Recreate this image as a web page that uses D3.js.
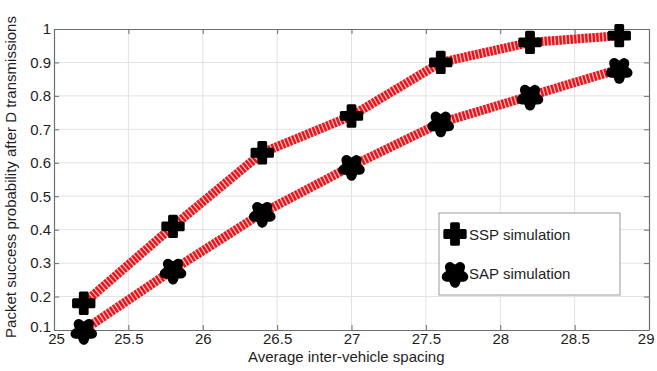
<!DOCTYPE html>
<html>
<head>
<meta charset="utf-8">
<script src="https://cdn.jsdelivr.net/npm/d3@7"></script>
<style>
  html, body { margin: 0; padding: 0; background: #fff; }
  svg { display: block; font-family: "Liberation Sans", Arial, sans-serif; }
</style>
</head>
<body>
<svg id="chart" width="657" height="371"></svg>
<script>
// Average inter-vehicle spacing (x) and packet success probability per scheme
const spacing = [25.2, 25.8, 26.4, 27.0, 27.6, 28.2, 28.8];
const sspValues = [0.18, 0.41, 0.63, 0.74, 0.90, 0.96, 0.98];
const sapValues = [0.10, 0.28, 0.45, 0.59, 0.72, 0.80, 0.88];
const xTicks = [25, 25.5, 26, 26.5, 27, 27.5, 28, 28.5, 29];
const yTicks = [0.1, 0.2, 0.3, 0.4, 0.5, 0.6, 0.7, 0.8, 0.9, 1];
const seriesNames = ["SSP simulation", "SAP simulation"];

(function () {
const svg = d3.select("#chart");
const margin = { left: 54, right: 8, top: 29, bottom: 41 };
const W = 657, H = 371;

const x = d3.scaleLinear().domain([25, 29]).range([margin.left, W - margin.right]);
const y = d3.scaleLinear().domain([0.1, 1]).range([H - margin.bottom, margin.top]);

const axisColor = "#6e6e6e";
const gridColor = "#e2e2e2";
const textColor = "#1e1e1e";

// grid
const grid = svg.append("g");
grid.selectAll("line.gx").data(xTicks.slice(1, -1)).join("line")
  .attr("x1", d => x(d)).attr("x2", d => x(d))
  .attr("y1", y(0.1)).attr("y2", y(1))
  .attr("stroke", gridColor).attr("stroke-width", 1);
grid.selectAll("line.gy").data(yTicks.slice(1, -1)).join("line")
  .attr("x1", x(25)).attr("x2", x(29))
  .attr("y1", d => y(d)).attr("y2", d => y(d))
  .attr("stroke", gridColor).attr("stroke-width", 1);

// axes: ticks point inward, mirrored on top/right
const fmt = d => d3.format("~g")(d);
const axBottom = svg.append("g").attr("transform", `translate(0,${y(0.1)})`)
  .call(d3.axisBottom(x).tickValues(xTicks).tickFormat(fmt).tickSizeInner(-5).tickSizeOuter(0).tickPadding(3));
const axLeft = svg.append("g").attr("transform", `translate(${x(25)},0)`)
  .call(d3.axisLeft(y).tickValues(yTicks).tickFormat(fmt).tickSizeInner(-5).tickSizeOuter(0).tickPadding(3));
const axTop = svg.append("g").attr("transform", `translate(0,${y(1)})`)
  .call(d3.axisTop(x).tickValues(xTicks).tickFormat("").tickSizeInner(-5).tickSizeOuter(0));
const axRight = svg.append("g").attr("transform", `translate(${x(29)},0)`)
  .call(d3.axisRight(y).tickValues(yTicks).tickFormat("").tickSizeInner(-5).tickSizeOuter(0));

[axBottom, axLeft, axTop, axRight].forEach(g => {
  g.select(".domain").attr("stroke", axisColor).attr("stroke-width", 1.2);
  g.selectAll(".tick line").attr("stroke", axisColor);
  g.selectAll(".tick text").attr("fill", textColor).style("font-size", "15px")
    .style("font-family", "'Liberation Sans', Arial, sans-serif");
});
// keep the corner labels apart and the last x label inside the frame
axBottom.selectAll(".tick text").filter(d => d === 29).attr("text-anchor", "end").attr("dx", "5");
axBottom.selectAll(".tick text").filter(d => d === 25).attr("dx", "2");
axLeft.selectAll(".tick text").filter(d => d === 0.1).attr("y", -3);

// axis titles
svg.append("text")
  .attr("x", 248).attr("y", 362)
  .attr("fill", textColor).style("font-size", "15px")
  .text("Average inter-vehicle spacing");
svg.append("text")
  .attr("transform", `translate(16,177) rotate(-90)`)
  .attr("text-anchor", "middle").attr("fill", textColor).style("font-size", "15px")
  .text("Packet success probability after D transmissions");

// series lines: thick red dotted strokes
const line = d3.line().x(d => x(d[0])).y(d => y(d[1])).curve(d3.curveLinear);
const series = [
  { name: seriesNames[0], values: sspValues, marker: "cross" },
  { name: seriesNames[1], values: sapValues, marker: "star" }
];

const plot = svg.append("g");
series.forEach(s => {
  const pts = spacing.map((v, i) => [v, s.values[i]]);
  plot.append("path").datum(pts).attr("d", line)
    .attr("fill", "none").attr("stroke", "#ff8080").attr("stroke-width", 9)
    .attr("opacity", 0.55);
  plot.append("path").datum(pts).attr("d", line)
    .attr("fill", "none").attr("stroke", "#e8141c").attr("stroke-width", 9)
    .attr("stroke-dasharray", "2.4,1.3");
});

const crossPath = d3.symbol().type(d3.symbolCross).size(230)();
const starPath = d3.symbol().type(d3.symbolStar).size(85)();

function drawMarker(g, kind, cx, cy) {
  if (kind === "cross") {
    g.append("path").attr("d", crossPath)
      .attr("transform", `translate(${cx},${cy})`)
      .attr("fill", "#000").attr("stroke", "#000").attr("stroke-width", 3)
      .attr("stroke-linejoin", "round");
  } else {
    g.append("path").attr("d", starPath)
      .attr("transform", `translate(${cx},${cy + 1}) rotate(180)`)
      .attr("fill", "#000").attr("stroke", "#000").attr("stroke-width", 10)
      .attr("stroke-linejoin", "round");
  }
}

series.forEach(s => {
  spacing.forEach((v, i) => drawMarker(plot, s.marker, x(v), y(s.values[i])));
});

// legend
const legend = svg.append("g");
legend.append("rect")
  .attr("x", 439).attr("y", 213).attr("width", 181).attr("height", 82)
  .attr("fill", "#fff").attr("stroke", "#9a9a9a").attr("stroke-width", 1);
series.forEach((s, i) => {
  const ly = 234 + i * 39;
  drawMarker(legend, s.marker, 455, ly);
  legend.append("text")
    .attr("x", 469).attr("y", ly + 5.5)
    .attr("fill", textColor).style("font-size", "15px")
    .text(s.name);
});
})();
</script>
</body>
</html>
